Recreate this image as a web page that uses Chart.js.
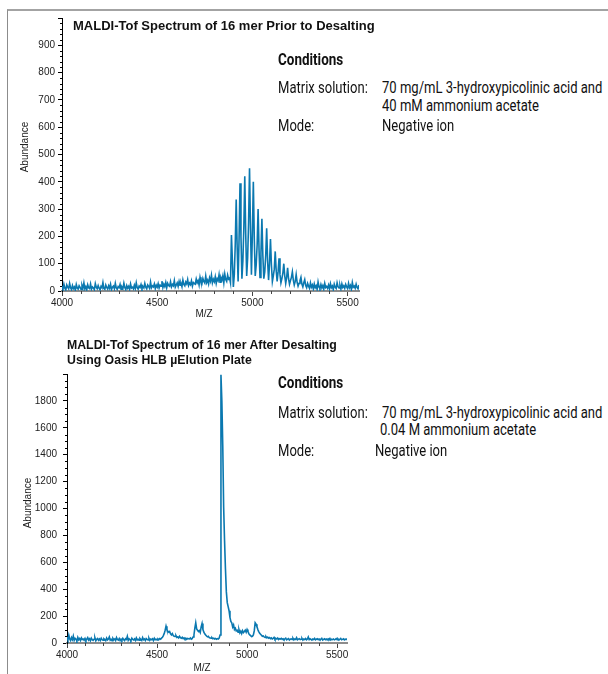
<!DOCTYPE html>
<html>
<head>
<meta charset="utf-8">
<script src="https://cdn.jsdelivr.net/npm/chart.js@4.4.1/dist/chart.umd.min.js"></script>
<style>
body { margin: 0; background: #fff; width: 608px; height: 674px; position: relative; overflow: hidden; font-family: "Liberation Sans", Arial, sans-serif; }
#frame { position: absolute; left: 7px; top: 9px; right: 0; bottom: 0; border-top: 2px solid #a3a3a3; border-left: 1px solid #8c8c8c; }
canvas { position: absolute; left: 0; }
.t { position: absolute; white-space: nowrap; }
.title { font-weight: bold; font-size: 13px; line-height: 13px; color: #111; }
.title.sm { font-size: 12.3px; line-height: 12px; }
.ax { font-size: 10px; line-height: 10px; color: #222; transform: translate(-50%, -50%); }
.ax.rot { transform: translate(-50%, -50%) rotate(-90deg); }
.c { font-family: Roboto, sans-serif; font-size: 16px; line-height: 16px; color: #111; transform-origin: 0 0; transform: scaleX(0.815); }
.c.b { font-weight: bold; transform: scaleX(0.84); }
</style>
</head>
<body>
<div id="frame"></div>
<canvas id="chartTop" width="370" height="330" style="top:0"></canvas>
<canvas id="chartBottom" width="370" height="334" style="top:340px"></canvas>

<div class="t title" style="left:73px;top:19px">MALDI-Tof Spectrum of 16 mer Prior to Desalting</div>
<div class="t ax rot" style="left:25px;top:147px">Abundance</div>
<div class="t ax" style="left:204px;top:314px">M/Z</div>

<div class="t c b" style="left:278px;top:52px">Conditions</div>
<div class="t c" style="left:278px;top:80px">Matrix solution:</div>
<div class="t c" style="left:382px;top:80px">70 mg/mL 3-hydroxypicolinic acid and</div>
<div class="t c" style="left:382px;top:98px">40 mM ammonium acetate</div>
<div class="t c" style="left:278px;top:118px">Mode:</div>
<div class="t c" style="left:382px;top:118px">Negative ion</div>

<div class="t title sm" style="left:67px;top:339px">MALDI-Tof Spectrum of 16 mer After Desalting</div>
<div class="t title sm" style="left:67px;top:354px">Using Oasis HLB µElution Plate</div>
<div class="t ax rot" style="left:28px;top:503px">Abundance</div>
<div class="t ax" style="left:202px;top:668px">M/Z</div>

<div class="t c b" style="left:278px;top:375px">Conditions</div>
<div class="t c" style="left:278px;top:405px">Matrix solution:</div>
<div class="t c" style="left:382px;top:405px">70 mg/mL 3-hydroxypicolinic acid and</div>
<div class="t c" style="left:380px;top:422px">0.04 M ammonium acetate</div>
<div class="t c" style="left:278px;top:443px">Mode:</div>
<div class="t c" style="left:375px;top:443px">Negative ion</div>

<script>
// spectra sampled every 5 m/z starting at 4000
const mzStart = 4000;
const mzStep = 5;

const xTicks = [4000, 4500, 5000, 5500];

// before desalting (4000 - 5560)
const abundanceBefore = [
  18, 6, 25, 10, 4, 22, 14, 8, 28, 12, 5, 20, 9, 15, 3, 24, 11, 7, 19, 13,
  6, 21, 10, 30, 8, 16, 4, 23, 12, 9, 26, 7, 15, 11, 5, 27, 14, 8, 20, 10,
  4, 17, 12, 31, 9, 6, 22, 13, 7, 19, 10, 25, 5, 14, 18, 8, 28, 11, 6, 16,
  12, 24, 7, 15, 9, 29, 13, 5, 20, 10, 17, 6, 26, 11, 14, 8, 21, 9, 30, 12,
  7, 18, 13, 24, 9, 16, 11, 28, 14, 8, 22, 17, 10, 33, 12, 19, 15, 26, 9, 21,
  14, 27, 11, 22, 18, 36, 13, 25, 16, 31, 12, 28, 20, 17, 34, 15, 24, 19, 38, 14,
  22, 30, 17, 35, 21, 28, 16, 40, 24, 19, 33, 26, 42, 20, 29, 23, 37, 18, 31, 27,
  25, 44, 30, 38, 22, 50, 33, 27, 46, 35, 29, 55, 31, 40, 26, 48, 36, 58, 30, 43,
  34, 52, 28, 45, 38, 60, 32, 49, 40, 56, 30, 62, 42, 35, 58, 44, 48, 30, 205, 110,
  15, 60, 170, 335, 160, 35, 190, 395, 200, 45, 110, 230, 420, 210, 55, 120, 250, 450, 230, 60,
  210, 400, 190, 55, 95, 170, 300, 150, 50, 140, 265, 130, 45, 70, 130, 230, 110, 40, 100, 190,
  95, 35, 55, 80, 145, 75, 35, 70, 120, 60, 30, 45, 65, 100, 55, 28, 50, 85, 45, 25,
  38, 50, 70, 40, 22, 35, 60, 32, 18, 28, 38, 50, 25, 15, 30, 42, 20, 12, 28, 18,
  10, 30, 14, 22, 8, 26, 12, 19, 6, 33, 15, 9, 24, 11, 20, 7, 28, 13, 17, 10,
  22, 8, 27, 12, 18, 5, 25, 14, 9, 30, 16, 11, 21, 7, 26, 13, 19, 10, 24, 15,
  9, 28, 12, 20, 6, 31, 14, 18, 10, 25, 13, 8, 22
];
const yTicksBefore = [0, 100, 200, 300, 400, 500, 600, 700, 800, 900, 1000];
const yLabelsBefore = [0, 100, 200, 300, 400, 500, 600, 700, 800, 900];

// after desalting (4000 - 5555)
const abundanceAfter = [
  45, 22, 58, 30, 18, 40, 25, 52, 20, 35, 28, 15, 42, 24, 33, 19, 38, 26, 30, 21,
  34, 18, 29, 40, 22, 31, 17, 36, 25, 20, 28, 39, 16, 27, 33, 21, 30, 19, 35, 24,
  20, 32, 26, 18, 37, 23, 29, 45, 21, 28, 17, 34, 24, 30, 19, 41, 26, 22, 33, 18,
  29, 21, 35, 25, 18, 32, 27, 50, 20, 31, 24, 17, 36, 26, 22, 30, 19, 38, 23, 28,
  21, 34, 26, 19, 40, 24, 30, 18, 33, 27, 22, 36, 20, 29, 25, 31, 18, 35, 24, 28,
  22, 30, 25, 33, 28, 36, 42, 55, 70, 95, 125, 100, 88, 80, 85, 68, 60, 70, 55, 50,
  48, 55, 42, 45, 38, 50, 40, 35, 42, 33, 38, 30, 36, 28, 34, 32, 30, 37, 29, 33,
  45, 60, 110, 150, 105, 95, 85, 92, 78, 120, 145, 100, 80, 68, 60, 52, 46, 50, 40, 38,
  35, 40, 32, 36, 30, 34, 28, 33, 30, 36, 60, 1995, 1800, 1470, 1010, 760, 550, 380, 300, 270,
  240, 190, 160, 150, 120, 135, 100, 110, 90, 95, 80, 100, 75, 88, 70, 92, 78, 85, 95, 80,
  100, 85, 70, 60, 55, 48, 50, 60, 90, 150, 140, 120, 100, 85, 72, 65, 58, 50, 52, 45,
  42, 48, 38, 44, 36, 40, 33, 38, 30, 35, 42, 28, 34, 30, 37, 26, 32, 29, 35, 27,
  32, 25, 30, 36, 24, 29, 33, 22, 28, 31, 26, 35, 23, 30, 27, 40, 24, 29, 32, 26,
  28, 34, 22, 30, 26, 33, 24, 29, 45, 25, 31, 27, 22, 30, 26, 34, 23, 28, 32, 25,
  30, 24, 28, 35, 22, 27, 32, 25, 29, 23, 31, 26, 34, 22, 28, 25, 30, 24, 27, 33,
  25, 30, 22, 28, 34, 24, 27, 31, 23, 29, 26, 32
];
const yTicksAfter = [0, 200, 400, 600, 800, 1000, 1200, 1400, 1600, 1800, 2000];
const yLabelsAfter = [0, 200, 400, 600, 800, 1000, 1200, 1400, 1600, 1800];

const lineColor = '#0a78b0';

// small unlabeled ticks between the major ones
const minorTicks = {
  id: 'minorTicks',
  afterDraw(chart, args, opts) {
    const { ctx, scales: { x, y } } = chart;
    ctx.save();
    ctx.lineWidth = 1;
    ctx.strokeStyle = '#000';
    for (let v = y.min; v <= y.max; v += opts.yStep) {
      if (v % opts.yMajor === 0) continue;
      const py = Math.round(y.getPixelForValue(v)) + 0.5;
      ctx.beginPath();
      ctx.moveTo(y.right - 2, py);
      ctx.lineTo(y.right, py);
      ctx.stroke();
    }
    ctx.strokeStyle = '#444';
    for (let v = x.min; v <= x.max; v += opts.xStep) {
      if (v % 500 === 0) continue;
      const px = Math.round(x.getPixelForValue(v)) + 0.5;
      ctx.beginPath();
      ctx.moveTo(px, x.top);
      ctx.lineTo(px, x.top + 3);
      ctx.stroke();
    }
    ctx.restore();
  }
};

function dibujarEspectro(canvasId, values, xMax, yTicks, yLabels, yMinor, yMajor, pad, yWidth, xHeight, labelPad) {
  const ctx = document.getElementById(canvasId).getContext('2d');
  return new Chart(ctx, {
    type: 'line',
    data: {
      datasets: [{
        data: values.map((v, i) => ({ x: mzStart + i * mzStep, y: v })),
        borderColor: lineColor,
        borderWidth: 1.6,
        pointRadius: 0,
        tension: 0,
        fill: false
      }]
    },
    options: {
      responsive: false,
      animation: false,
      layout: { padding: pad },
      plugins: {
        legend: { display: false },
        tooltip: { enabled: false },
        minorTicks: { yStep: yMinor, yMajor: yMajor, xStep: 100 }
      },
      scales: {
        x: {
          type: 'linear',
          min: 4000,
          max: xMax,
          afterBuildTicks: s => { s.ticks = xTicks.map(v => ({ value: v })); },
          afterFit: s => { s.height = xHeight; },
          grid: { drawOnChartArea: false, tickLength: 5, color: '#444' },
          border: { color: '#8c8c8c', width: 2 },
          ticks: {
            padding: 1, maxRotation: 0, autoSkip: false, color: '#222',
            font: { family: '"Liberation Sans", Arial, sans-serif', size: 10 },
            callback: v => String(v)
          }
        },
        y: {
          min: 0,
          max: yTicks[yTicks.length - 1],
          afterBuildTicks: s => { s.ticks = yTicks.map(v => ({ value: v })); },
          afterFit: s => { s.width = yWidth; },
          grid: { drawOnChartArea: false, tickLength: 4, color: '#000' },
          border: { color: '#000', width: 1 },
          ticks: {
            padding: labelPad, autoSkip: false, color: '#222',
            font: { family: '"Liberation Sans", Arial, sans-serif', size: 10 },
            callback: v => yLabels.includes(v) ? String(v) : ''
          }
        }
      }
    },
    plugins: [minorTicks]
  });
}

dibujarEspectro('chartTop', abundanceBefore, 5560, yTicksBefore, yLabelsBefore, 20, 100,
  { top: 18, right: 11, left: 0, bottom: 0 }, 62, 39, 3);
dibujarEspectro('chartBottom', abundanceAfter, 5555, yTicksAfter, yLabelsAfter, 50, 200,
  { top: 34, right: 23, left: 0, bottom: 0 }, 67, 31, 6);
</script>
</body>
</html>
